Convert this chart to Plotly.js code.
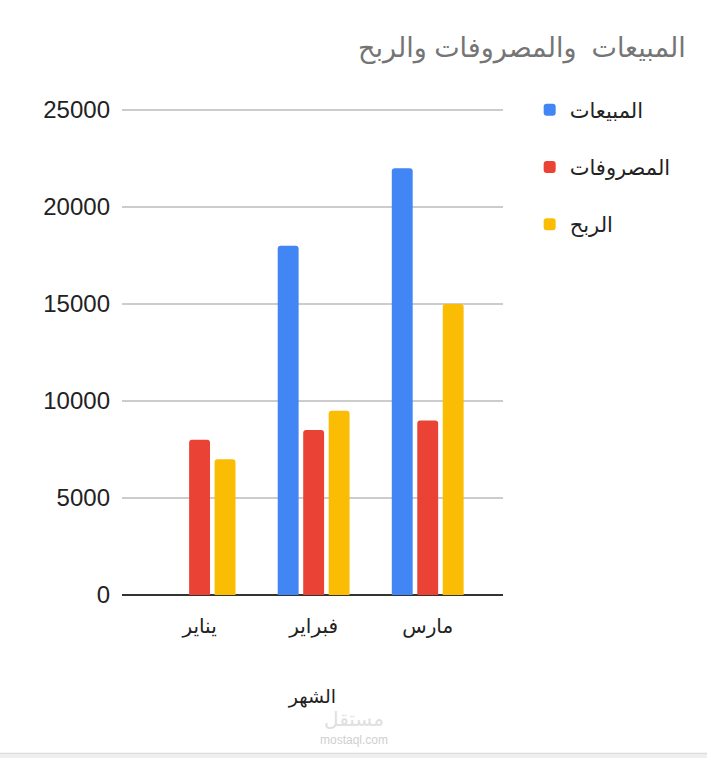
<!DOCTYPE html>
<html>
<head>
<meta charset="utf-8">
<script src="https://cdn.plot.ly/plotly-3.0.1.min.js"></script>
<style>
  html, body { margin: 0; padding: 0; background: #fff; }
  #chart { width: 707px; height: 758px; }
</style>
</head>
<body>
<div id="chart"></div>
<script>
// chart data
var months = ['يناير', 'فبراير', 'مارس'];
var sales = [0, 18000, 22000];
var expenses = [8000, 8500, 9000];
var profit = [7000, 9500, 15000];
var seriesNames = ['المبيعات', 'المصروفات', 'الربح'];
var seriesColors = ['#4285f4', '#ea4335', '#fbbc04'];
var yTicks = [0, 5000, 10000, 15000, 20000, 25000];

var font = 'Arial, "Liberation Sans", "DejaVu Sans", sans-serif';

function makeTrace(vals, i) {
    return {
        type: 'bar',
        x: months,
        y: vals,
        name: seriesNames[i],
        legendgroup: 'g' + i,
        marker: { color: seriesColors[i], cornerradius: 3 },
        hoverinfo: 'x+y+name'
    };
}

var data = [
    makeTrace(sales, 0),
    makeTrace(expenses, 1),
    makeTrace(profit, 2)
];

var layout = {
    width: 707,
    height: 758,
    margin: { l: 122, r: 204, t: 108, b: 163 },
    paper_bgcolor: '#ffffff',
    plot_bgcolor: '#ffffff',
    font: { family: font, color: '#222222' },
    barmode: 'group',
    bargap: 0.33,
    bargroupgap: 0.18,
    title: {
        text: 'المبيعات  والمصروفات والربح',
        font: { family: font, size: 27, color: '#757575' },
        xref: 'container',
        x: 0.970,
        xanchor: 'right',
        yref: 'container',
        y: 0.937,
        yanchor: 'middle'
    },
    xaxis: {
        type: 'category',
        range: [-0.68, 2.66],
        showgrid: false,
        showline: false,
        zeroline: false,
        ticks: '',
        ticklabelstandoff: 17,
        tickfont: { family: font, size: 20, color: '#222222' },
        title: {
            text: 'الشهر',
            font: { family: font, size: 19, color: '#222222' },
            standoff: 52
        }
    },
    yaxis: {
        range: [0, 25100],
        tickvals: yTicks,
        tickformat: 'd',
        showgrid: true,
        gridcolor: '#cccccc',
        gridwidth: 1.5,
        zeroline: true,
        zerolinecolor: '#333333',
        zerolinewidth: 2,
        showline: false,
        ticks: '',
        ticklabelstandoff: 11,
        tickfont: { family: font, size: 24, color: '#222222' }
    },
    showlegend: true,
    legend: {
        x: 1.07,
        xanchor: 'left',
        y: 1.038,
        yanchor: 'top',
        traceorder: 'grouped',
        tracegroupgap: 27,
        font: { family: font, size: 21, color: '#222222' },
        bgcolor: 'rgba(0,0,0,0)'
    },
    annotations: [
        {
            text: 'مستقل',
            xref: 'paper', yref: 'paper',
            x: 0.61, y: -0.2536,
            yanchor: 'middle',
            showarrow: false,
            font: { family: font, size: 20, color: '#e0e0e0' }
        },
        {
            text: 'mostaql.com',
            xref: 'paper', yref: 'paper',
            x: 0.61, y: -0.2985,
            yanchor: 'middle',
            showarrow: false,
            font: { family: font, size: 12, color: '#d0d0d0' }
        }
    ],
    shapes: [
        {
            type: 'rect',
            xref: 'paper', yref: 'paper',
            x0: -0.4, x1: 1.6,
            y0: -0.325, y1: -0.345,
            fillcolor: '#eeeeee',
            line: { color: '#d6d6d6', width: 1 }
        }
    ]
};

Plotly.newPlot('chart', data, layout, { displayModeBar: false, staticPlot: true });
</script>
</body>
</html>
